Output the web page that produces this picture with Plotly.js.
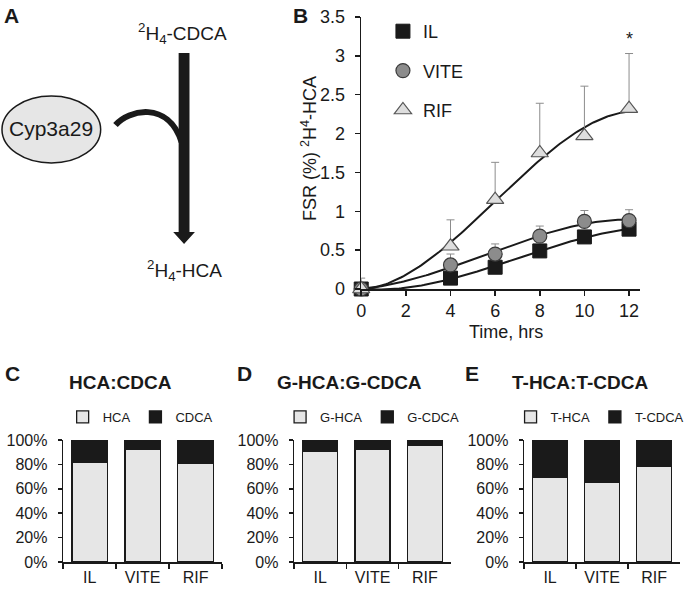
<!DOCTYPE html>
<html>
<head>
<meta charset="utf-8">
<script src="https://cdn.plot.ly/plotly-3.0.1.min.js"></script>
<style>html,body{margin:0;padding:0;background:#fff;}#chart{width:690px;height:593px;}</style>
</head>
<body>
<div id="chart"></div>
<script>
// ---------- data ----------
const timeHrs = [0, 4, 6, 8, 10, 12];
const fsrIL   = [0, 0.14, 0.28, 0.49, 0.67, 0.77];
const fsrVITE = [0, 0.31, 0.45, 0.68, 0.87, 0.88];
const fsrRIF  = [0, 0.55, 1.15, 1.75, 1.97, 2.32];
const errIL   = [0.05, 0.05, 0.06, 0.06, 0.08, 0.07];
const errVITE = [0.05, 0.14, 0.13, 0.13, 0.14, 0.14];
const errRIF  = [0.14, 0.34, 0.48, 0.64, 0.64, 0.71];
const seriesNames = ['IL', 'VITE', 'RIF'];
const xTicksB = [0, 2, 4, 6, 8, 10, 12];
const yTicksB = [0, 0.5, 1, 1.5, 2, 2.5, 3, 3.5];

const groups = ['IL', 'VITE', 'RIF'];
const hcaPct  = [82, 92, 81];
const cdcaPct = [18, 8, 19];
const ghcaPct  = [91, 92, 96];
const gcdcaPct = [9, 8, 4];
const thcaPct  = [69, 65, 78];
const tcdcaPct = [31, 35, 22];
const pctTicks = [0, 20, 40, 60, 80, 100];
const pctLabels = ['0%', '20%', '40%', '60%', '80%', '100%'];

// ---------- helpers ----------
const W = 690, H = 593;
const px = x => x / W;
const py = y => 1 - y / H;
const FONT = 'Liberation Sans, Arial, sans-serif';
const INK = '#1a1a1a';

function polyfit(xs, ys, deg) {
  const n = deg + 1;
  const A = [], b = [];
  for (let i = 0; i < n; i++) {
    A.push(new Array(n).fill(0));
    b.push(0);
  }
  for (let k = 0; k < xs.length; k++) {
    for (let i = 0; i < n; i++) {
      b[i] += ys[k] * Math.pow(xs[k], i);
      for (let j = 0; j < n; j++) A[i][j] += Math.pow(xs[k], i + j);
    }
  }
  for (let c = 0; c < n; c++) {
    let p = c;
    for (let r = c + 1; r < n; r++) if (Math.abs(A[r][c]) > Math.abs(A[p][c])) p = r;
    [A[c], A[p]] = [A[p], A[c]];
    [b[c], b[p]] = [b[p], b[c]];
    for (let r = c + 1; r < n; r++) {
      const f = A[r][c] / A[c][c];
      for (let j = c; j < n; j++) A[r][j] -= f * A[c][j];
      b[r] -= f * b[c];
    }
  }
  const coef = new Array(n).fill(0);
  for (let i = n - 1; i >= 0; i--) {
    let s = b[i];
    for (let j = i + 1; j < n; j++) s -= A[i][j] * coef[j];
    coef[i] = s / A[i][i];
  }
  return coef;
}
function trend(xs, ys) {
  const c = polyfit(xs, ys, 3);
  const tx = [], ty = [];
  const x0 = xs[0], x1 = xs[xs.length - 1];
  for (let i = 0; i <= 120; i++) {
    const t = x0 + (x1 - x0) * i / 120;
    tx.push(t);
    ty.push(c[0] + c[1] * t + c[2] * t * t + c[3] * t * t * t);
  }
  return {tx, ty};
}

// ---------- panel B traces ----------
const fsrSeries = [fsrIL, fsrVITE, fsrRIF];
const errSeries = [errIL, errVITE, errRIF];
const markerStyles = [
  {symbol: 'square', size: 14, color: INK, line: {color: INK, width: 1}},
  {symbol: 'circle', size: 14, color: '#8c8c8c', line: {color: '#3a3a3a', width: 1.2}},
  {symbol: 'triangle-up', size: 15, color: '#dedede', line: {color: '#555', width: 1.2}}
];
const traces = [];
fsrSeries.forEach((ys) => {
  const t = trend(timeHrs, ys);
  traces.push({
    type: 'scatter', mode: 'lines', x: t.tx, y: t.ty, xaxis: 'x', yaxis: 'y',
    line: {color: INK, width: 2}, showlegend: false, hoverinfo: 'skip', cliponaxis: false
  });
});
fsrSeries.forEach((ys, i) => {
  traces.push({
    type: 'scatter', mode: 'markers', name: seriesNames[i], legendgroup: seriesNames[i],
    x: timeHrs, y: ys, xaxis: 'x', yaxis: 'y', legend: 'legend',
    marker: markerStyles[i], cliponaxis: false,
    error_y: {type: 'data', array: errSeries[i], arrayminus: timeHrs.map(() => 0),
              symmetric: false, color: '#8c8c8c', thickness: 1, width: 4}
  });
});

// ---------- bar panels ----------
const barPanels = [
  {top: hcaPct, bot: cdcaPct, names: ['HCA', 'CDCA'], xa: 'x2', ya: 'y2', lg: 'legend2'},
  {top: ghcaPct, bot: gcdcaPct, names: ['G-HCA', 'G-CDCA'], xa: 'x3', ya: 'y3', lg: 'legend3'},
  {top: thcaPct, bot: tcdcaPct, names: ['T-HCA', 'T-CDCA'], xa: 'x4', ya: 'y4', lg: 'legend4'}
];
barPanels.forEach(p => {
  traces.push({
    type: 'bar', x: groups, y: p.top, name: p.names[0], xaxis: p.xa, yaxis: p.ya, legend: p.lg,
    marker: {color: '#e6e6e6', line: {color: INK, width: 1.3}}, hoverinfo: 'y'
  });
  traces.push({
    type: 'bar', x: groups, y: p.bot, name: p.names[1], xaxis: p.xa, yaxis: p.ya, legend: p.lg,
    marker: {color: INK, line: {color: INK, width: 1.3}}, hoverinfo: 'y'
  });
});

// ---------- axes ----------
const axisLine = {showline: true, linecolor: INK, linewidth: 1.5, ticks: 'outside', ticklen: 5,
                  tickwidth: 1.5, tickcolor: INK, showgrid: false, zeroline: false, fixedrange: true};
function barX(l, r, ya) {
  return Object.assign({}, axisLine, {domain: [px(l), px(r)], anchor: ya, type: 'category',
    tickson: 'boundaries', tickfont: {size: 16, color: INK}});
}
function barY(xa) {
  return Object.assign({}, axisLine, {domain: [py(562), py(440)], anchor: xa, range: [0, 100],
    tickmode: 'array', tickvals: pctTicks, ticktext: pctLabels, tickfont: {size: 16, color: INK},
    ticklen: 4, ticklabelstandoff: 7});
}

const ann = (x, y, text, size, extra) => Object.assign({
  xref: 'paper', yref: 'paper', x: px(x), y: py(y), text: text, showarrow: false,
  xanchor: 'center', yanchor: 'middle', font: {size: size, color: INK, family: FONT}
}, extra || {});

const annotations = [
  ann(12, 15, '<b>A</b>', 21),
  ann(304, 15, '<b>B</b>', 21),
  ann(13, 373, '<b>C</b>', 21),
  ann(248, 373, '<b>D</b>', 21),
  ann(478, 373, '<b>E</b>', 21),
  ann(122.5, 382, '<b>HCA:CDCA</b>', 19),
  ann(354, 382, '<b>G-HCA:G-CDCA</b>', 19),
  ann(587.5, 382, '<b>T-HCA:T-CDCA</b>', 19),
  ann(52, 129, 'Cyp3a29', 21),
  ann(185, 33, '<sup>2</sup>H<sub>4</sub>-CDCA', 19),
  ann(187, 270, '<sup>2</sup>H<sub>4</sub>-HCA', 19),
  ann(313, 148, 'FSR (%) <sup>2</sup>H<sup>4</sup>-HCA', 18, {textangle: -90}),
  ann(513, 332, 'Time, hrs', 18),
  {xref: 'x', yref: 'y', x: 12, y: 3.22, text: '*', showarrow: false,
   font: {size: 18, color: INK, family: FONT}}
];

const P = (x, y) => px(x) + ',' + py(y);
const shapes = [
  {type: 'circle', xref: 'paper', yref: 'paper', x0: px(2), x1: px(102), y0: py(163), y1: py(96),
   fillcolor: '#e6e6e6', line: {color: INK, width: 1.5}, layer: 'below'},
  {type: 'path', xref: 'paper', yref: 'paper',
   path: 'M' + P(117, 125) + ' C' + P(130, 110) + ' ' + P(170, 100) + ' ' + P(184, 142),
   line: {color: INK, width: 6}},
  {type: 'path', xref: 'paper', yref: 'paper',
   path: 'M' + P(181, 53) + ' L' + P(192, 53) + ' L' + P(192, 232) + ' L' + P(197.5, 232) +
         ' L' + P(186.5, 244) + ' L' + P(175.5, 232) + ' L' + P(181, 232) + ' Z',
   fillcolor: INK, line: {width: 0}}
];

const barLegend = (x) => ({x: px(x), y: py(417), xanchor: 'center', yanchor: 'middle',
  orientation: 'h', traceorder: 'normal', itemwidth: 30, bgcolor: 'rgba(0,0,0,0)',
  font: {size: 13, color: INK}});

const layout = {
  width: W, height: H, margin: {l: 0, r: 0, t: 0, b: 0},
  paper_bgcolor: '#ffffff', plot_bgcolor: 'rgba(0,0,0,0)',
  font: {family: FONT, color: INK},
  barmode: 'stack', bargap: 0.33,
  showlegend: true,
  xaxis: Object.assign({}, axisLine, {domain: [px(366), px(648)], anchor: 'y', range: [0, 12.47],
    tickvals: xTicksB, tickfont: {size: 18, color: INK}}),
  yaxis: Object.assign({}, axisLine, {domain: [py(289), py(17)], anchor: 'x', range: [0, 3.5],
    tickvals: yTicksB, tickfont: {size: 18, color: INK}, ticklabelstandoff: 6}),
  xaxis2: barX(64, 225, 'y2'), yaxis2: barY('x2'),
  xaxis3: barX(298, 457, 'y3'), yaxis3: barY('x3'),
  xaxis4: barX(531, 689, 'y4'), yaxis4: barY('x4'),
  legend: {x: px(388), y: py(13), xanchor: 'left', yanchor: 'top', bgcolor: 'rgba(0,0,0,0)',
    font: {size: 18, color: INK}, traceorder: 'grouped', tracegroupgap: 13},
  legend2: barLegend(142),
  legend3: barLegend(377),
  legend4: barLegend(608),
  annotations: annotations,
  shapes: shapes
};

Plotly.newPlot('chart', traces, layout, {displayModeBar: false, staticPlot: true});
</script>
</body>
</html>
